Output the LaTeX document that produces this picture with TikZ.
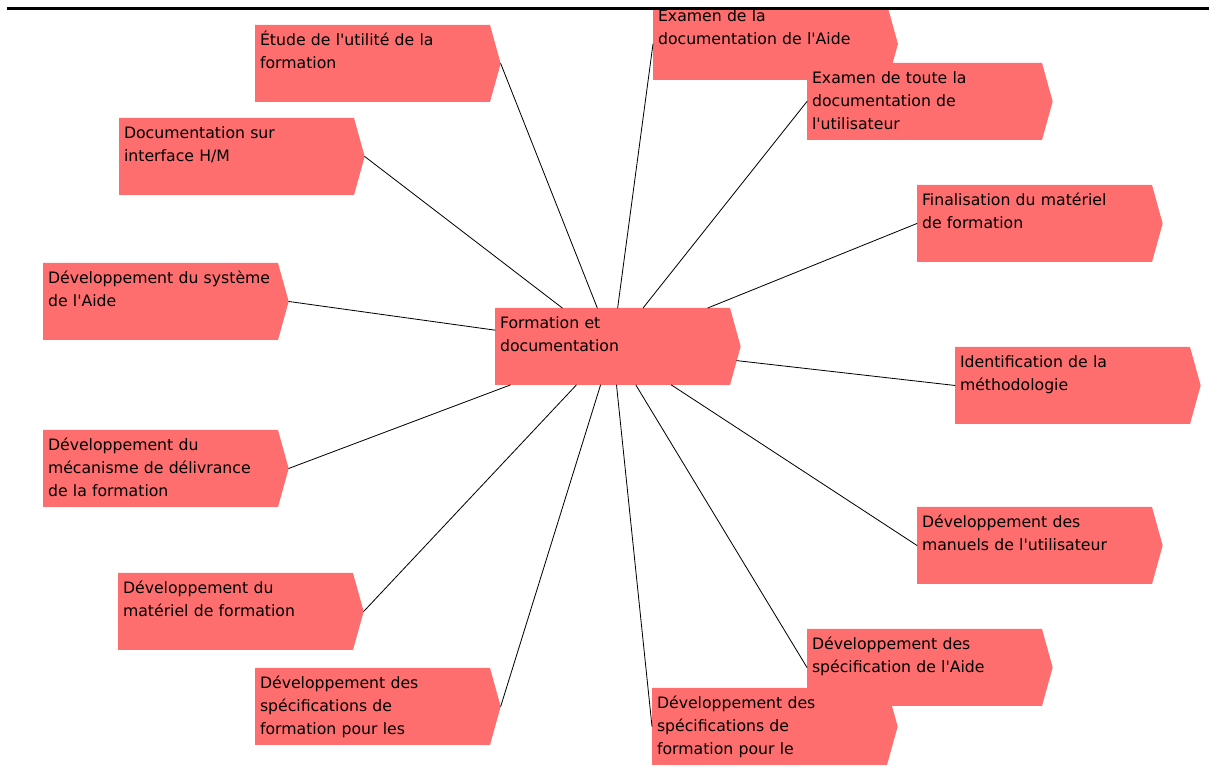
\documentclass[tikz,border=0pt]{standalone}
\usepackage{fontspec}
\setmainfont{DejaVu Sans}[Ligatures=TeXOff]
\usepackage{tikz}
\usetikzlibrary{shapes.symbols}
\usepackage{xcolor}
\definecolor{saumon}{RGB}{255,110,110}

\begin{document}
\begin{tikzpicture}[line cap=round,
  tache/.style={signal,signal to=east,signal pointer angle=149,fill=saumon,draw=none,
    anchor=north west,inner xsep=4.3pt,inner ysep=0pt,outer sep=0pt,
    text width=192pt,text height=17.9pt,text depth=47.8pt,align=left,
    font=\fontsize{13.4}{19.6}\selectfont},
  lien/.style={draw=black,line width=0.7pt}]
\useasboundingbox (0,0) rectangle (36.27,23.07);
% boites de gauche
\node[tache] (etude) at (7.65,22.32) {Étude de l'utilité de la\\formation};
\node[tache] (docihm) at (3.57,19.53) {Documentation sur\\interface H/M};
\node[tache] (devsys) at (1.29,15.18) {Développement du système\\de l'Aide};
\node[tache] (devmeca) at (1.29,10.17) {Développement du\\mécanisme de délivrance\\de la formation};
\node[tache] (devmat) at (3.54,5.88) {Développement du\\matériel de formation};
\node[tache] (specles) at (7.65,3.03) {Développement des\\spécifications de\\formation pour les};
% boite centrale
\node[tache] (ctr) at (14.85,13.83) {Formation et\\documentation};
% boites de droite
\node[tache,text height=11.9pt,text depth=49.5pt] (examaide) at (19.59,22.83) {Examen de la\\documentation de l'Aide};
\node[tache] (examutil) at (24.21,21.18) {Examen de toute la\\documentation de\\l'utilisateur};
\node[tache] (final) at (27.51,17.52) {Finalisation du matériel\\de formation};
\node[tache] (ident) at (28.65,12.66) {Identification de la\\méthodologie};
\node[tache] (manuels) at (27.51,7.86) {Développement des\\manuels de l'utilisateur};
\node[tache] (specaide) at (24.21,4.2) {Développement des\\spécification de l'Aide};
\node[tache] (specle) at (19.56,2.43) {Développement des\\spécifications de\\formation pour le};
% liens
\foreach \n in {etude,docihm,devsys,devmeca,devmat,specles}
  \draw[lien] (ctr) -- (\n.east);
\foreach \n in {examaide,examutil,final,ident,manuels,specaide,specle}
  \draw[lien] (ctr) -- (\n.west);
% filet du haut
\draw[line width=2.6pt,line cap=butt] (0.21,22.815) -- (36.27,22.815);
\end{tikzpicture}
\end{document}
